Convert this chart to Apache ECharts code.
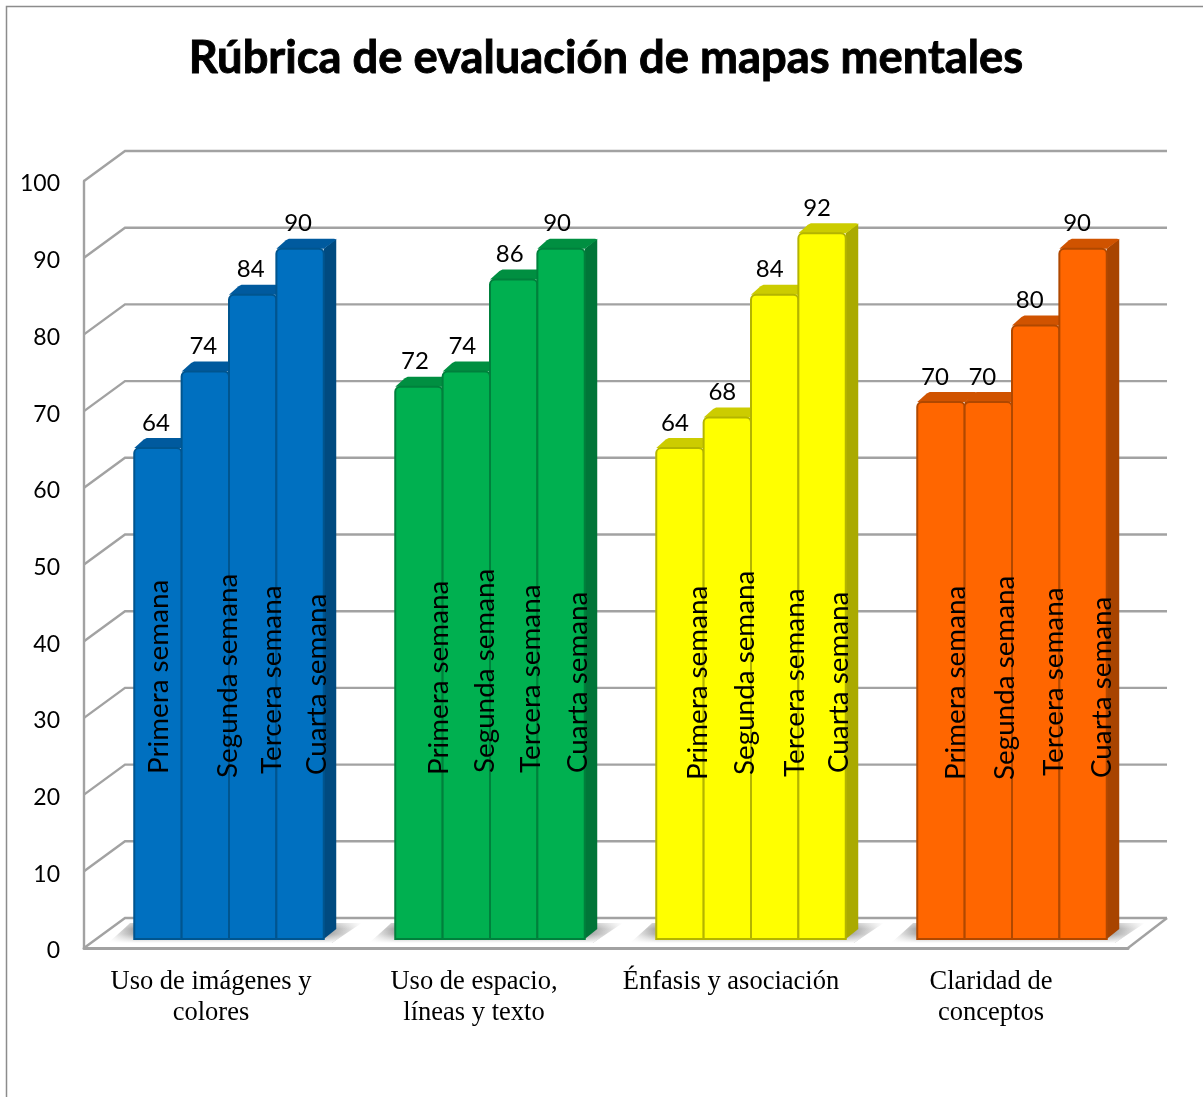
<!DOCTYPE html>
<html><head><meta charset="utf-8">
<style>html,body{margin:0;padding:0;background:#fff;overflow:hidden}#c{width:1203px;height:1097px}</style>
<script src="https://cdn.jsdelivr.net/npm/echarts@6/dist/echarts.min.js"></script>
</head><body><div id="c"></div>
<script>
const categories = ['Uso de imágenes y\ncolores','Uso de espacio,\nlíneas y texto','Énfasis y asociación','Claridad de\nconceptos'];
const weekNames = ['Primera semana','Segunda semana','Tercera semana','Cuarta semana'];
const primera = [64,72,64,70];
const segunda = [74,74,68,70];
const tercera = [84,86,84,80];
const cuarta  = [90,90,92,90];
const weeks = [primera,segunda,tercera,cuarta];
const yTicks = [0,10,20,30,40,50,60,70,80,90,100];

// colour styles per category
const faceColors = ['#0070c0','#00b050','#ffff00','#ff6600'];
const sideColors = ['#004a80','#007538','#aaaa00','#a84400'];
const capColors  = ['#005a9e','#008f41','#cccc00','#d05300'];
const edgeColors = ['#00558f','#00803c','#b4b400','#b04800'];

// layout styles (pixels)
const WALL_DX = 41, WALL_DX_R = 39, WALL_DY = -30;
const BAR_SHIFT_X = 14.5, BAR_LIFT = 9, BAR_DX = 12.5, BAR_DY = -10;
const BAR_W_RATIO = 0.1815;
const valueLabelDx = [-2,-4,-5,-6];
const nameDx = [[1.5,23,19,17],[20,19,17,17],[18,18,20,17],[15,17,18,19]];
const nameRise = [[174,170,174,173],[173,175,175,175],[168,173,171,175],[168,168,172,170]];
const catPad = [7,3,11,13];

function barGeom(api, i, w, v) {
  const p = api.coord([i, v]), base = api.coord([i, 0]);
  const band = api.size([1, 0])[0];
  const bw = band * BAR_W_RATIO;
  const x = p[0] + BAR_SHIFT_X + (w - 2) * bw;
  return {x, bw, top: p[1] - BAR_LIFT, bottom: base[1] - BAR_LIFT, base: base[1]};
}

const wallSeries = {
  type:'custom', name:'walls', z:1, silent:true, encode:{x:0,y:1},
  data: yTicks.map(t => [0,t]),
  renderItem(params, api) {
    const cs = params.coordSys, y = api.coord([0, api.value(1)])[1];
    const xl = cs.x, xr = cs.x + cs.width;
    const st = {stroke:'#a2a2a2', lineWidth:2.4, fill:null};
    const kids = [{type:'polyline', shape:{points:[[xl,y],[xl+WALL_DX,y+WALL_DY],[xr+WALL_DX_R,y+WALL_DY]]}, style:st}];
    if (api.value(1) === 0) kids.push({type:'line', shape:{x1:xr,y1:y,x2:xr+WALL_DX_R,y2:y+WALL_DY}, style:st});
    return {type:'group', children:kids};
  }
};

const shadowSeries = {
  type:'custom', name:'shadow', z:2, silent:true, encode:{x:0,y:1},
  data: categories.map((c,i) => [i,0]),
  renderItem(params, api) {
    const i = api.value(0);
    const g0 = barGeom(api,i,0,0), g3 = barGeom(api,i,3,0);
    const l = g0.x, r = g3.x + g3.bw, b = g0.bottom;
    const pts = [[l-26,b+4],[l-4,b-16],[r+38,b-16],[r+8,b+4]];
    return {type:'group', children:[
      {type:'polygon', shape:{points:pts}, style:{fill:new echarts.graphic.LinearGradient(0,0,1,0,[
        {offset:0,color:'rgba(140,140,140,0)'},{offset:0.11,color:'rgba(140,140,140,0.85)'},
        {offset:0.86,color:'rgba(140,140,140,0.9)'},{offset:1,color:'rgba(140,140,140,0)'}])}},
      {type:'polygon', shape:{points:pts}, style:{fill:new echarts.graphic.LinearGradient(0,0,0,1,[
        {offset:0,color:'rgba(255,255,255,0.45)'},{offset:0.3,color:'rgba(255,255,255,0)'},
        {offset:0.55,color:'rgba(255,255,255,0.1)'},{offset:1,color:'rgba(255,255,255,1)'}])}}
    ]};
  }
};

const barSeries = weeks.map((vals,w) => ({
  type:'custom', name:weekNames[w], z:3+w, silent:true, encode:{x:0,y:1},
  data: vals.map((v,i) => [i,v]),
  renderItem(params, api) {
    const i = api.value(0), g = barGeom(api,i,w,api.value(1));
    const l = g.x, r = g.x+g.bw, t = g.top, b = g.bottom;
    return {type:'group', children:[
      {type:'polygon', shape:{points:[[r,t],[r+BAR_DX,t+BAR_DY],[r+BAR_DX,b+BAR_DY],[r,b]]}, style:{fill:sideColors[i]}},
      {type:'polygon', shape:{points:[[l,t],[l+BAR_DX-3,t+BAR_DY+1.5],[l+BAR_DX,t+BAR_DY],[r+BAR_DX-2,t+BAR_DY],[r+BAR_DX,t+BAR_DY+1],[r,t]]}, style:{fill:capColors[i]}},
      {type:'rect', shape:{x:l,y:t,width:g.bw,height:b-t,r:[5,5,0,0]}, style:{fill:faceColors[i], stroke:edgeColors[i], lineWidth:2}}
    ]};
  }
}));

const labelSeries = weeks.map((vals,w) => ({
  type:'custom', name:weekNames[w]+' etiquetas', z:10, silent:true, encode:{x:0,y:1},
  data: vals.map((v,i) => [i,v]),
  renderItem(params, api) {
    const i = api.value(0), v = api.value(1), g = barGeom(api,i,w,v);
    const cx = g.x + g.bw/2;
    return {type:'group', children:[
      {type:'text', x:cx+valueLabelDx[i], y:g.top-25, style:{text:String(v), font:'24px Lato', fill:'#000', align:'center', verticalAlign:'middle'}},
      {type:'text', x:cx+nameDx[i][w], y:g.base-nameRise[i][w], rotation:Math.PI/2,
        style:{text:weekNames[w], font:'27.8px Lato', fill:'#000', align:'left', verticalAlign:'middle'}}
    ]};
  }
}));

const chart = echarts.init(document.getElementById('c'), null, {renderer:'canvas'});
chart.setOption({
  animation:false,
  backgroundColor:'#fff',
  title:{text:'Rúbrica de evaluación de mapas mentales', left:601, top:31, textAlign:'center',
    textStyle:{fontFamily:'Lato', fontWeight:'bold', fontSize:45.3, color:'#000', textBorderColor:'#000', textBorderWidth:0.9}},
  graphic:[{type:'rect', silent:true, shape:{x:6.5,y:6.5,width:1300,height:1200}, style:{fill:null, stroke:'#8c8c8c', lineWidth:1.5}}],
  grid:{left:84, top:181, width:1044, height:767},
  xAxis:{type:'category', data:categories,
    axisTick:{show:false}, axisLine:{show:true, lineStyle:{color:'#a2a2a2', width:3}}, splitLine:{show:false},
    axisLabel:{interval:0, margin:19, lineHeight:31, fontFamily:'Liberation Serif', fontSize:26.5, color:'#000',
      formatter:(val,idx)=>val.split('\n').map(s=>`{c${idx}|${s}}`).join('\n'),
      rich:Object.fromEntries(catPad.map((p,i)=>['c'+i,{padding:[0,p,0,0], fontFamily:'Liberation Serif', fontSize:26.5, lineHeight:31, color:'#000'}]))}},
  yAxis:{type:'value', min:0, max:100, interval:10,
    axisTick:{show:false}, axisLine:{show:true, lineStyle:{color:'#a2a2a2', width:2.4}}, splitLine:{show:false},
    axisLabel:{margin:24, fontFamily:'Lato', fontSize:23, color:'#000',
      formatter:v=>`{t|${v}}`,
      rich:{t:{padding:[6,0,0,0], fontFamily:'Lato', fontSize:23, color:'#000'}}}},
  series:[wallSeries, shadowSeries, ...barSeries, ...labelSeries]
});
</script></body></html>
